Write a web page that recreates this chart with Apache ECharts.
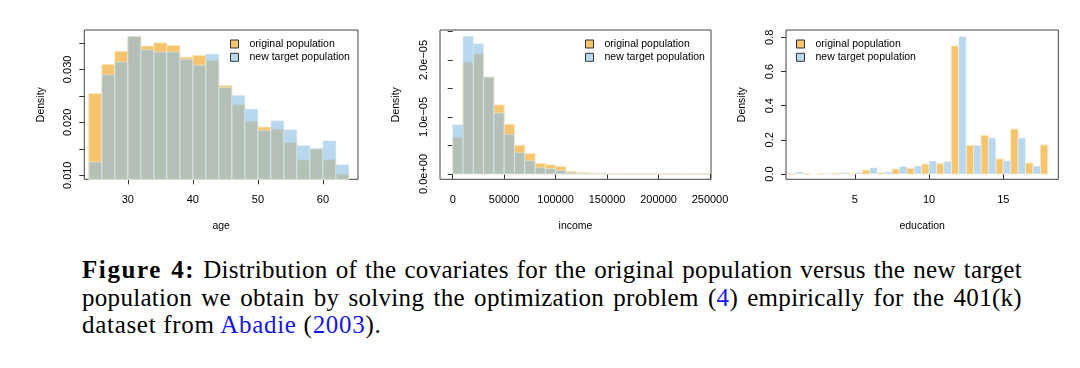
<!DOCTYPE html>
<html><head><meta charset="utf-8">
<script src="https://cdn.jsdelivr.net/npm/echarts@6/dist/echarts.min.js"></script>
<style>
html,body{margin:0;padding:0;background:#fff;width:1080px;height:368px;overflow:hidden;}
#chart{position:absolute;left:0;top:0;width:1080px;height:250px;}
#cap{position:absolute;left:82px;top:256px;width:940px;font-family:"Liberation Serif","Times New Roman",serif;font-size:25px;line-height:27.7px;letter-spacing:0.3px;color:#000;}
.j{text-align:justify;text-align-last:justify;white-space:nowrap;}
.b{font-weight:bold;letter-spacing:1.6px;}
.l3{letter-spacing:0.7px;}
.lk{color:#1515ee;}
</style></head><body>
<div id="chart"></div>
<div id="cap">
<div class="j"><span class="b">Figure 4:</span> Distribution of the covariates for the original population versus the new target</div>
<div class="j">population we obtain by solving the optimization problem (<span class="lk">4</span>) empirically for the 401(k)</div>
<div class="l3">dataset from <span class="lk">Abadie</span> (<span class="lk">2003</span>).</div>
</div>
<script>
// ---------- data ----------
const seriesNames = ['original population', 'new target population'];

const ageEdges = [24,26,28,30,32,34,36,38,40,42,44,46,48,50,52,54,56,58,60,62,64];
const ageOriginal = [0.0254,0.0309,0.0334,0.0362,0.0344,0.0350,0.0345,0.0323,0.0326,0.0317,0.0269,0.0233,0.0202,0.0191,0.0187,0.0162,0.0129,0.0149,0.0129,0.0102];
const ageNew      = [0.0125,0.0290,0.0314,0.0362,0.0337,0.0333,0.0333,0.0319,0.0308,0.0329,0.0266,0.0251,0.0225,0.0185,0.0203,0.0186,0.0156,0.0151,0.0165,0.0120];
const ageXTicks = [30,40,50,60];
const ageYTicks = [0.010,0.015,0.020,0.025,0.030,0.035];
const ageYLabelValues = [0.010,0.020,0.030];
const ageYLabels = ['0.010','0.020','0.030'];

const incomeEdges = [0,10000,20000,30000,40000,50000,60000,70000,80000,90000,100000,110000,120000,130000,140000,150000,160000,170000,180000,190000,200000,210000,220000,230000,240000,250000];
const incomeOriginal = [0.643e-5,1.96e-5,2.105e-5,1.70e-5,1.21e-5,0.87e-5,0.503e-5,0.357e-5,0.181e-5,0.158e-5,0.128e-5,0.047e-5,0.023e-5,0.015e-5,0.008e-5,0.006e-5,0.005e-5,0.004e-5,0.004e-5,0.003e-5,0.003e-5,0.002e-5,0.002e-5,0.002e-5,0.003e-5];
const incomeNew      = [0.865e-5,2.415e-5,2.286e-5,1.70e-5,1.07e-5,0.696e-5,0.374e-5,0.234e-5,0.111e-5,0.093e-5,0.064e-5,0.023e-5,0.010e-5,0.005e-5,0.003e-5,0.002e-5,0.002e-5,0.001e-5,0.001e-5,0.001e-5,0.001e-5,0.001e-5,0.001e-5,0.001e-5,0.001e-5];
const incomeXTicks = [0,50000,100000,150000,200000,250000];
const incomeYTicks = [0,0.5e-5,1.0e-5,1.5e-5,2.0e-5,2.5e-5];
const incomeYLabelValues = [0,1.0e-5,2.0e-5];
const incomeYLabels = ['0.0e+00','1.0e\u221205','2.0e\u221205'];

const eduLevels   = [1,2,3,4,5,6,7,8,9,10,11,12,13,14,15,16,17,18];
const eduOriginal = [0,0.002,0.002,0.005,0.005,0.023,0.006,0.029,0.033,0.058,0.060,0.750,0.168,0.226,0.088,0.263,0.064,0.170];
const eduNew      = [0.012,0.002,0.005,0.008,0.008,0.037,0.012,0.045,0.047,0.076,0.074,0.805,0.168,0.211,0.078,0.212,0.047,0];
const eduXTicks = [5,10,15];
const eduYTicks = [0,0.2,0.4,0.6,0.8];
const eduYLabels = ['0.0','0.2','0.4','0.6','0.8'];

// ---------- style ----------
const ORANGE = '#F6C46E';
const BLUE = 'rgba(137,190,230,0.6)';
const FONT = 'Liberation Sans';
const BOXES = [
  {left:84.3, top:30, width:273.7, height:149.3, xmin:23.3, xmax:65.4, ymin:0.00924, ymax:0.03744},
  {left:440, top:30, width:271, height:149.3, xmin:-12340, xmax:250970, ymin:-0.093e-5, ymax:2.526e-5},
  {left:786, top:30, width:272.3, height:149.3, xmin:0.36, xmax:18.71, ymin:-0.031, ymax:0.843}
];

function bins(edges, vals){ return vals.map((v,i)=>[edges[i], edges[i+1], v]); }
function sideBars(levels, vals, side){ return vals.map((v,i)=> side===0 ? [levels[i]-0.5, levels[i], v] : [levels[i], levels[i]+0.5, v]); }

function rectItem(fill, stroke){
  return function(params, api){
    const x0 = api.value(0), x1 = api.value(1), v = api.value(2);
    const a = api.coord([x0, 0]), b = api.coord([x1, v]);
    const cs = params.coordSys;
    const shape = echarts.graphic.clipRectByRect(
      {x:a[0], y:b[1], width:b[0]-a[0], height:a[1]-b[1]},
      {x:cs.x, y:cs.y, width:cs.width, height:cs.height});
    if(!shape) return null;
    return {type:'rect', shape:shape, style:{fill:fill, stroke:stroke, lineWidth:1}};
  };
}

function labelFor(values, labels){
  return function(v){
    const i = values.findIndex(x => Math.abs(x - v) < 1e-12);
    return i >= 0 ? labels[i] : '';
  };
}

const axisText = {color:'#000', fontSize:11, fontFamily:FONT};
const nameText = {color:'#000', fontSize:10.5, fontFamily:FONT};

function xAxisCfg(i, ticks, name){
  const b = BOXES[i];
  return {gridIndex:i, type:'value', min:b.xmin, max:b.xmax, name:name, nameLocation:'middle', nameGap:41,
    nameTextStyle:nameText, axisLine:{show:false}, splitLine:{show:false},
    axisTick:{show:true, length:5, lineStyle:{color:'#333'}, customValues:ticks},
    axisLabel:Object.assign({customValues:ticks, margin:15, formatter:v=>String(v)}, axisText)};
}
function yAxisCfg(i, ticks, labelVals, labels){
  const b = BOXES[i];
  return {gridIndex:i, type:'value', min:b.ymin, max:b.ymax, name:'Density', nameLocation:'middle', nameGap:38, nameRotate:90,
    nameTextStyle:nameText, axisLine:{show:false}, splitLine:{show:false},
    axisTick:{show:true, length:5, lineStyle:{color:'#333'}, customValues:ticks},
    axisLabel:Object.assign({customValues:labelVals, rotate:90, margin:11, formatter:labelFor(labelVals, labels)}, axisText)};
}

function legendCfg(left){
  return {data:seriesNames, left:left, top:33, orient:'vertical', icon:'rect', itemWidth:8, itemHeight:8, itemGap:1.3,
    selectedMode:false, itemStyle:{borderColor:'#333', borderWidth:1},
    textStyle:{fontSize:10.5, lineHeight:12, color:'#000', fontFamily:FONT, padding:[0,0,0,6]}};
}

function customSeries(name, idx, data, fill, stroke){
  return {type:'custom', name:name, xAxisIndex:idx, yAxisIndex:idx, data:data,
    encode:{x:[0,1], y:2}, itemStyle:{color:fill}, renderItem:rectItem(fill, stroke), animation:false};
}

const option = {
  animation:false,
  backgroundColor:'#fff',
  textStyle:{fontFamily:FONT},
  grid: BOXES.map(b => ({left:b.left, top:b.top, width:b.width, height:b.height, show:true, borderColor:'#444', borderWidth:1, backgroundColor:'transparent'})),
  xAxis:[ xAxisCfg(0, ageXTicks, 'age'), xAxisCfg(1, incomeXTicks, 'income'), xAxisCfg(2, eduXTicks, 'education') ],
  yAxis:[ yAxisCfg(0, ageYTicks, ageYLabelValues, ageYLabels),
          yAxisCfg(1, incomeYTicks, incomeYLabelValues, incomeYLabels),
          yAxisCfg(2, eduYTicks, eduYTicks, eduYLabels) ],
  legend:[ legendCfg(225), legendCfg(580), legendCfg(791) ],
  series:[
    customSeries(seriesNames[0], 0, bins(ageEdges, ageOriginal), ORANGE, '#F7E3B5'),
    customSeries(seriesNames[1], 0, bins(ageEdges, ageNew), BLUE, 'rgba(235,240,235,0.5)'),
    customSeries(seriesNames[0], 1, bins(incomeEdges, incomeOriginal), ORANGE, '#F7E3B5'),
    customSeries(seriesNames[1], 1, bins(incomeEdges, incomeNew), BLUE, 'rgba(235,240,235,0.5)'),
    customSeries(seriesNames[0], 2, sideBars(eduLevels, eduOriginal, 0), ORANGE, '#FBE6BD'),
    customSeries(seriesNames[1], 2, sideBars(eduLevels, eduNew, 1), BLUE, 'rgba(255,255,255,0.5)')
  ]
};
const chart = echarts.init(document.getElementById('chart'), null, {renderer:'canvas'});
chart.setOption(option);
</script>
</body></html>
